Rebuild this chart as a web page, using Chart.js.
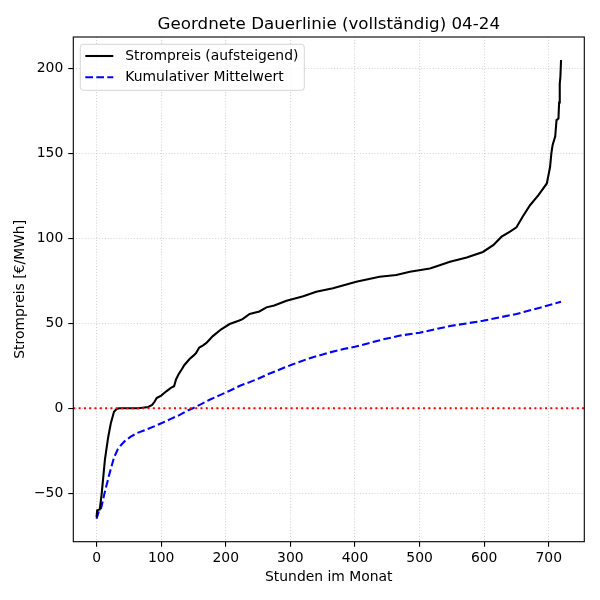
<!DOCTYPE html>
<html>
<head>
<meta charset="utf-8">
<script src="https://cdn.jsdelivr.net/npm/chart.js@4.4.1/dist/chart.umd.min.js"></script>
<style>
    html, body { margin: 0; padding: 0; background: #fff; }
</style>
</head>
<body>
<canvas id="chart" width="600" height="600"></canvas>
<script>
// sortierte Strompreise, Stunde -> €/MWh
const hours = [0, 1, 5, 8, 13, 18, 22, 27, 31, 35, 50, 65, 80, 86, 90, 93, 100, 108, 115, 120,
    123, 127, 132, 136, 144, 150, 154, 159, 165, 170, 180, 193, 206, 220, 226, 237, 252, 263, 275, 294,
    320, 340, 366, 402, 438, 464, 485, 516, 530, 547, 573, 598, 614, 627, 640, 650, 660, 671, 684, 697,
    702, 704, 706, 710, 712, 715, 716, 717, 718, 719];
const prices = [-64, -60, -59.5, -50, -30, -17, -9, -2, -0.4, 0, 0, 0, 0.8, 2, 4, 6, 7.5, 10, 12, 13,
    17, 20, 23, 25.5, 29, 31, 32.5, 35.8, 37, 38.5, 42.5, 46.5, 49.6, 51.5, 52.5, 55.5, 57, 59.4, 60.5, 63.3,
    66, 68.6, 70.6, 74.5, 77.4, 78.4, 80.4, 82.3, 84, 86.2, 88.8, 92, 96, 101, 104, 106.5, 113, 119.5, 125.5, 132.3,
    142, 150, 155, 160, 169.6, 170.5, 180, 191, 195, 205];

// kumulativer Mittelwert
const meanHours = [0, 4, 7, 12, 20, 27, 33, 38, 45, 53, 63, 75, 90, 102, 115, 128, 140, 149, 162, 175,
    190, 206, 222, 237, 250, 265, 280, 301, 330, 360, 384, 400, 443, 470, 500, 547, 598, 650, 692, 719];
const meanValues = [-65, -60, -58.8, -50.5, -38.5, -29, -24, -21.6, -18.8, -16.7, -14.5, -12.8, -10.5, -8.5, -6.2, -4, -1.5, 0, 2.5, 5,
    7.6, 10.3, 13.3, 15.4, 17.4, 20, 22.3, 25.5, 29.5, 32.8, 35, 36.2, 40.5, 42.8, 44.5, 48.4, 51.5, 55.5, 59.8, 62.7];

const xTicks = [0, 100, 200, 300, 400, 500, 600, 700];
const yTicks = [-50, 0, 50, 100, 150, 200];
const zeroLevel = 0;

const labelPrice = "Strompreis (aufsteigend)";
const labelMean = "Kumulativer Mittelwert";
const titleText = "Geordnete Dauerlinie (vollständig) 04-24";

const FONT = "DejaVu Sans";
const meanDash = [7.7, 3.3];

Chart.defaults.font.family = FONT;
Chart.defaults.color = "#000";

const frameAndExtras = {
    id: "frameAndExtras",
    afterDatasetsDraw(chart) {
        const {ctx, chartArea: a, scales} = chart;
        const y0 = scales.y.getPixelForValue(zeroLevel);
        ctx.save();
        ctx.strokeStyle = "red";
        ctx.lineWidth = 2;
        ctx.setLineDash([2, 3.3]);
        ctx.beginPath();
        ctx.moveTo(a.left, y0);
        ctx.lineTo(a.right, y0);
        ctx.stroke();
        ctx.restore();
    },
    afterDraw(chart) {
        const {ctx, chartArea: a} = chart;
        ctx.save();
        // Rahmen
        ctx.strokeStyle = "#000";
        ctx.lineWidth = 1.1;
        ctx.strokeRect(a.left, a.top, a.right - a.left, a.bottom - a.top);

        // Titel
        ctx.fillStyle = "#000";
        ctx.font = "16.7px '" + FONT + "'";
        ctx.textAlign = "center";
        ctx.textBaseline = "alphabetic";
        ctx.fillText(titleText, (a.left + a.right) / 2, 28.5);

        // Legende
        const lx = a.left + 7, ly = a.top + 7.3, lw = 224, lh = 46, r = 3;
        ctx.fillStyle = "rgba(255,255,255,0.8)";
        ctx.strokeStyle = "rgba(204,204,204,0.8)";
        ctx.lineWidth = 1;
        ctx.beginPath();
        ctx.roundRect(lx, ly, lw, lh, r);
        ctx.fill();
        ctx.stroke();

        ctx.lineWidth = 2.08;
        ctx.strokeStyle = "#000";
        ctx.beginPath();
        ctx.moveTo(lx + 5, ly + 11.7);
        ctx.lineTo(lx + 33, ly + 11.7);
        ctx.stroke();
        ctx.strokeStyle = "blue";
        ctx.setLineDash(meanDash);
        ctx.beginPath();
        ctx.moveTo(lx + 5, ly + 33);
        ctx.lineTo(lx + 33, ly + 33);
        ctx.stroke();
        ctx.setLineDash([]);

        ctx.fillStyle = "#000";
        ctx.font = "13.9px '" + FONT + "'";
        ctx.textAlign = "left";
        ctx.textBaseline = "middle";
        ctx.fillText(labelPrice, lx + 45, ly + 12);
        ctx.fillText(labelMean, lx + 45, ly + 33.3);
        ctx.restore();
    }
};

function fmt(v) {
    return v < 0 ? "\u2212" + Math.abs(v) : String(v);
}

new Chart(document.getElementById("chart"), {
    type: "line",
    data: {
        datasets: [{
            label: labelPrice,
            data: hours.map((h, i) => ({x: h, y: prices[i]})),
            borderColor: "#000",
            borderWidth: 2.08,
            pointRadius: 0,
            tension: 0
        },
            {
                label: labelMean,
                data: meanHours.map((h, i) => ({x: h, y: meanValues[i]})),
                borderColor: "blue",
                borderWidth: 2.08,
                borderDash: meanDash,
                pointRadius: 0,
                tension: 0
            }]
    },
    options: {
        responsive: false,
        animation: false,
        devicePixelRatio: 1,
        layout: {
            padding: {top: 37, right: 15.7, bottom: 0, left: 0}
        },
        plugins: {
            legend: {display: false},
            title: {display: false},
            tooltip: {enabled: false}
        },
        scales: {
            x: {
                type: "linear",
                min: -36,
                max: 755,
                afterFit: s => { s.height = 58.3; },
                afterBuildTicks: s => { s.ticks = xTicks.map(v => ({value: v})); },
                ticks: {
                    font: {size: 13.9},
                    padding: 3,
                    maxRotation: 0,
                    callback: v => fmt(v)
                },
                grid: {
                    color: "rgba(176,176,176,0.5)",
                    lineWidth: 1.1,
                    tickColor: "#000",
                    tickLength: 5,
                    tickWidth: 1.1
                },
                border: {display: false, dash: [1.1, 1.8]},
                title: {
                    display: true,
                    text: "Stunden im Monat",
                    font: {size: 13.9},
                    padding: {top: 0, bottom: 14.7}
                }
            },
            y: {
                type: "linear",
                min: -78.5,
                max: 218.5,
                afterFit: s => { s.width = 73.3; },
                afterBuildTicks: s => { s.ticks = yTicks.map(v => ({value: v})); },
                ticks: {
                    font: {size: 13.9},
                    padding: 5,
                    callback: v => fmt(v)
                },
                grid: {
                    color: "rgba(176,176,176,0.5)",
                    lineWidth: 1.1,
                    tickColor: "#000",
                    tickLength: 5,
                    tickWidth: 1.1
                },
                border: {display: false, dash: [1.1, 1.8]},
                title: {
                    display: true,
                    text: "Strompreis [€/MWh]",
                    font: {size: 13.9},
                    padding: {top: 12.5, bottom: 0}
                }
            }
        }
    },
    plugins: [frameAndExtras]
});
</script>
</body>
</html>
